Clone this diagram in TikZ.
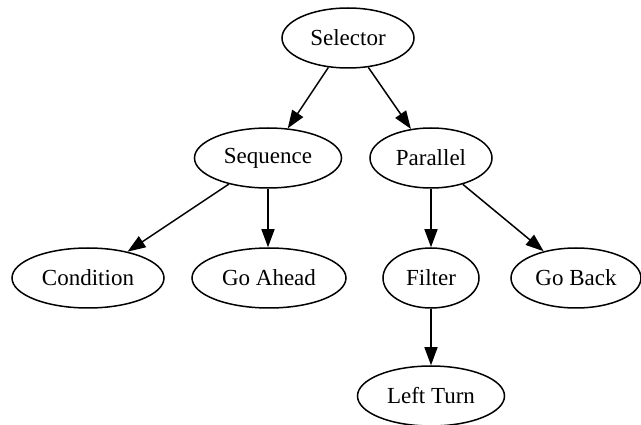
\documentclass[tikz,border=0pt]{standalone}
\usepackage{fontspec}
\setmainfont{Liberation Serif}
\usetikzlibrary{arrows.meta,shapes.geometric}
\begin{document}
\begin{tikzpicture}[x=1pt,y=-1pt,
  bnode/.style={draw,ellipse,line width=1.5pt,inner sep=0pt,minimum height=60pt,font=\fontsize{23}{27}\selectfont},
  edge/.style={line width=1.5pt,-{Triangle[length=18pt,width=13pt]}}]
\useasboundingbox (0,0) rectangle (641,425);
\node[bnode,minimum width=132pt] (sel) at (348,38) {Selector};
\node[bnode,minimum width=147pt] (seq) at (268,158) {Sequence};
\node[bnode,minimum width=122pt] (par) at (431,158) {Parallel};
\node[bnode,minimum width=152pt] (cond) at (88,278) {Condition};
\node[bnode,minimum width=154pt] (ga) at (269,278) {Go Ahead};
\node[bnode,minimum width=96pt] (fil) at (431,278) {Filter};
\node[bnode,minimum width=130pt] (gb) at (576,278) {Go Back};
\node[bnode,minimum width=147pt] (lt) at (431,396) {Left Turn};
\draw[edge] (sel) -- (seq);
\draw[edge] (sel) -- (par);
\draw[edge] (seq) -- (cond);
\draw[edge] (seq.south) -- (seq.south |- ga.north);
\draw[edge] (par) -- (fil);
\draw[edge] (par) -- (gb);
\draw[edge] (fil) -- (lt);
\end{tikzpicture}
\end{document}
